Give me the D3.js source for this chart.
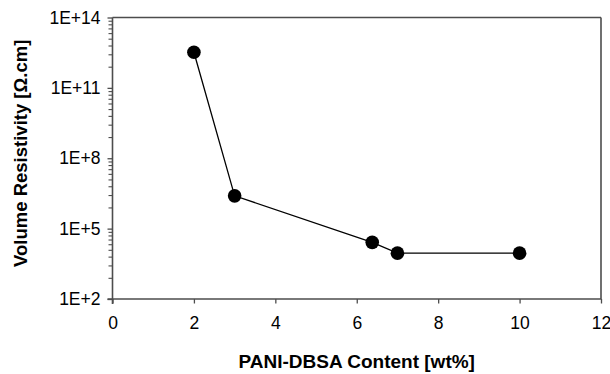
<!DOCTYPE html>
<html>
<head>
<meta charset="utf-8">
<script src="https://cdn.jsdelivr.net/npm/d3@7"></script>
<style>
  html, body { margin: 0; padding: 0; background: #fff; }
  svg { display: block; }
  text { font-family: "Liberation Sans", Arial, sans-serif; }
</style>
</head>
<body>
<svg id="chart" width="610" height="374"></svg>
<script>
// Data
const content = [2, 3, 6.38, 7, 10];               // PANI-DBSA content [wt%]
const resistivity = [3.3e12, 2.5e6, 2.6e4, 9.0e3, 9.0e3]; // volume resistivity [Ω.cm]

const xTicks = [0, 2, 4, 6, 8, 10, 12];
const yTicks = [1e2, 1e5, 1e8, 1e11, 1e14];
const yTickLabels = ["1E+2", "1E+5", "1E+8", "1E+11", "1E+14"];
const xTitle = "PANI-DBSA Content [wt%]";
const yTitle = "Volume Resistivity [Ω.cm]";

const margin = { left: 112.5, right: 9, top: 17.5, bottom: 75 };
const W = 610, H = 374;
const svg = d3.select("#chart");

const x = d3.scaleLinear().domain([0, 12]).range([margin.left, W - margin.right]);
const y = d3.scaleLog().domain([1e2, 1e14]).range([H - margin.bottom, margin.top]);

const axisColor = "#4d4d4d";
const font = "'Liberation Sans', Arial, sans-serif";

// frame (top & right)
svg.append("line").attr("x1", x(0)).attr("x2", x(12)).attr("y1", y(1e14)).attr("y2", y(1e14))
  .attr("stroke", axisColor).attr("stroke-width", 1.6);
svg.append("line").attr("x1", x(12)).attr("x2", x(12)).attr("y1", y(1e14)).attr("y2", y(1e2))
  .attr("stroke", axisColor).attr("stroke-width", 1.6);

// x axis
const xAxis = d3.axisBottom(x).tickValues(xTicks).tickSizeInner(4.5).tickSizeOuter(0).tickPadding(13)
  .tickFormat(d3.format("d"));
const gx = svg.append("g").attr("transform", `translate(0,${y(1e2)})`).call(xAxis);
gx.select(".domain").attr("stroke", axisColor).attr("stroke-width", 1.6)
  .attr("d", `M${x(0) - 5},0H${x(12)}`);
gx.selectAll(".tick line").attr("stroke", axisColor).attr("stroke-width", 1.3);
gx.selectAll(".tick text").attr("font-size", 17.5).attr("fill", "#000").attr("font-family", font);

// y axis major
const yAxis = d3.axisLeft(y).tickValues(yTicks).tickSizeInner(5).tickSizeOuter(0).tickPadding(7)
  .tickFormat((d, i) => yTickLabels[i]);
const gy = svg.append("g").attr("transform", `translate(${x(0)},0)`).call(yAxis);
gy.select(".domain").attr("stroke", axisColor).attr("stroke-width", 1.6)
  .attr("d", `M0,${y(1e14)}V${y(1e2) + 5}`);
gy.selectAll(".tick line").attr("stroke", axisColor).attr("stroke-width", 1.3);
gy.selectAll(".tick text").attr("font-size", 17.5).attr("fill", "#000").attr("font-family", font);

// y axis minor ticks: within each 3-decade interval, placed log-wise (n = 2..9)
const minor = [];
for (let i = 0; i < yTicks.length - 1; i++) {
  const a = Math.log10(yTicks[i]);
  for (let n = 2; n <= 9; n++) minor.push(Math.pow(10, a + 3 * Math.log10(n)));
}
const yMinor = d3.axisLeft(y).tickValues(minor).tickSize(4).tickFormat("");
const gm = svg.append("g").attr("transform", `translate(${x(0)},0)`).call(yMinor);
gm.select(".domain").remove();
gm.selectAll(".tick line").attr("stroke", axisColor).attr("stroke-width", 1.1);

// axis titles
svg.append("text").attr("x", (x(0) + x(12)) / 2).attr("y", 368)
  .attr("text-anchor", "middle").attr("font-size", 19).attr("font-weight", "bold")
  .attr("font-family", font).text(xTitle);
svg.append("text").attr("transform", `translate(27,${(y(1e14) + y(1e2)) / 2 - 5}) rotate(-90)`)
  .attr("text-anchor", "middle").attr("font-size", 18.5).attr("font-weight", "bold")
  .attr("font-family", font).text(yTitle);

// data line + markers
const pts = content.map((c, i) => [c, resistivity[i]]);
svg.append("path").datum(pts)
  .attr("fill", "none").attr("stroke", "#000").attr("stroke-width", 1.3)
  .attr("d", d3.line().x(d => x(d[0])).y(d => y(d[1])));
svg.selectAll("circle.pt").data(pts).enter().append("circle").attr("class", "pt")
  .attr("cx", d => x(d[0])).attr("cy", d => y(d[1])).attr("r", 6.8).attr("fill", "#000");
</script>
</body>
</html>
